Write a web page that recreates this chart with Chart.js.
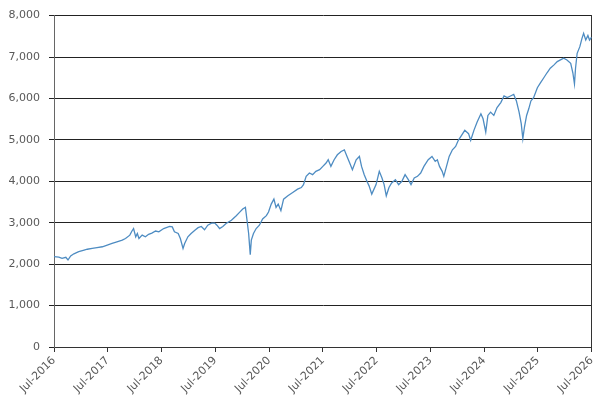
<!DOCTYPE html>
<html>
<head>
<meta charset="utf-8">
<script src="https://cdn.jsdelivr.net/npm/chart.js@4.4.0/dist/chart.umd.min.js"></script>
<style>
    body { margin: 0; background: #fff; }
    #grafico { display: block; }
</style>
</head>
<body>
<canvas id="grafico" width="603" height="409"></canvas>
<script>
// rótulos do eixo X (um por ano, em julho)
var labelsAno = ['Jul-2016', 'Jul-2017', 'Jul-2018', 'Jul-2019', 'Jul-2020', 'Jul-2021',
    'Jul-2022', 'Jul-2023', 'Jul-2024', 'Jul-2025', 'Jul-2026'];
var inicioAno = 2016.5;

// datas em ano decimal e valores
var datas = [
    2016.50, 2016.59, 2016.65, 2016.72, 2016.76, 2016.81, 2016.87, 2016.96, 2017.06, 2017.12,
    2017.21, 2017.30, 2017.40, 2017.49, 2017.58, 2017.67, 2017.77, 2017.83, 2017.91, 2017.95,
    2017.98, 2018.02, 2018.05, 2018.08, 2018.14, 2018.20, 2018.26, 2018.32, 2018.39, 2018.45,
    2018.54, 2018.65, 2018.70, 2018.74, 2018.81, 2018.85, 2018.90, 2018.93, 2018.99, 2019.05,
    2019.12, 2019.18, 2019.24, 2019.30, 2019.36, 2019.43, 2019.49, 2019.53, 2019.58, 2019.64,
    2019.70, 2019.80, 2019.89, 2019.95, 2020.01, 2020.06, 2020.09, 2020.12, 2020.15, 2020.17,
    2020.21, 2020.26, 2020.32, 2020.38, 2020.45, 2020.49, 2020.54, 2020.59, 2020.63, 2020.67,
    2020.72, 2020.77, 2020.85, 2020.94, 2021.03, 2021.10, 2021.14, 2021.19, 2021.25, 2021.31,
    2021.37, 2021.44, 2021.50, 2021.56, 2021.60, 2021.65, 2021.71, 2021.77, 2021.84, 2021.90,
    2021.95, 2022.00, 2022.05, 2022.12, 2022.18, 2022.22, 2022.27, 2022.32, 2022.36, 2022.41,
    2022.49, 2022.55, 2022.60, 2022.64, 2022.68, 2022.73, 2022.78, 2022.85, 2022.91, 2022.97,
    2023.03, 2023.09, 2023.14, 2023.20, 2023.26, 2023.32, 2023.38, 2023.46, 2023.53, 2023.59,
    2023.63, 2023.67, 2023.72, 2023.75, 2023.80, 2023.85, 2023.91, 2023.97, 2024.02, 2024.08,
    2024.14, 2024.21, 2024.25, 2024.31, 2024.37, 2024.44, 2024.48, 2024.53, 2024.57, 2024.62,
    2024.68, 2024.74, 2024.81, 2024.87, 2024.93, 2024.99, 2025.05, 2025.10, 2025.15, 2025.19,
    2025.22, 2025.25, 2025.29, 2025.33, 2025.37, 2025.42, 2025.49, 2025.55, 2025.61, 2025.67,
    2025.73, 2025.80, 2025.86, 2025.92, 2025.98, 2026.04, 2026.11, 2026.15, 2026.18, 2026.20,
    2026.23, 2026.28, 2026.32, 2026.35, 2026.39, 2026.43, 2026.46, 2026.50
];
var valores = [
    2180, 2170, 2140, 2165, 2100, 2200, 2250, 2300, 2340, 2360,
    2380, 2400, 2420, 2460, 2500, 2540, 2580, 2620, 2700, 2800,
    2860, 2660, 2740, 2620, 2700, 2660, 2720, 2750, 2800, 2780,
    2860, 2910, 2900, 2780, 2740, 2620, 2380, 2500, 2660, 2740,
    2820, 2880, 2910, 2830, 2940, 2990, 2990, 2940, 2860, 2910,
    2980, 3060, 3170, 3250, 3330, 3370, 3060, 2740, 2230, 2580,
    2740, 2860, 2940, 3090, 3170, 3260, 3450, 3570, 3370, 3450,
    3290, 3570, 3650, 3730, 3810, 3850, 3920, 4120, 4200, 4160,
    4240, 4280, 4360, 4440, 4520, 4360, 4520, 4640, 4720, 4760,
    4600, 4440, 4280, 4520, 4600, 4360, 4160, 4000, 3890, 3690,
    3920, 4240, 4080, 3920, 3650, 3850, 3960, 4040, 3920, 4000,
    4160, 4040, 3920, 4080, 4120, 4200, 4360, 4520, 4600, 4480,
    4520, 4360, 4240, 4120, 4360, 4600, 4760, 4840, 4990, 5110,
    5230, 5150, 4990, 5230, 5430, 5630, 5510, 5190, 5590, 5670,
    5590, 5780, 5900, 6060, 6020, 6060, 6100, 5940, 5670, 5390,
    5030, 5310, 5590, 5750, 5940, 6020, 6260, 6380, 6500, 6620,
    6730, 6810, 6890, 6930, 6970, 6930, 6850, 6620, 6350, 6730,
    7090, 7250, 7450, 7570, 7410, 7520, 7410, 7480
];

var ctxGrafico = document.getElementById('grafico');

var pontos = [];
for (let i = 0; i < datas.length; i++) {
    pontos.push({ x: datas[i], y: valores[i] });
}

var fonteEixo = { family: 'DejaVu Sans', size: 11 };

new Chart(ctxGrafico, {
    type: 'line',
    data: {
        datasets: [{
            data: pontos,
            borderColor: '#4e8cc2',
            borderWidth: 1.3,
            pointRadius: 0,
            tension: 0
        }]
    },
    options: {
        responsive: false,
        animation: false,
        layout: {
            padding: { top: 10, right: 10 }
        },
        plugins: {
            legend: { display: false },
            tooltip: { enabled: false }
        },
        scales: {
            x: {
                type: 'linear',
                min: inicioAno,
                max: inicioAno + labelsAno.length - 1,
                afterBuildTicks: function (escala) {
                    escala.ticks = labelsAno.map(function (l, i) {
                        return { value: inicioAno + i };
                    });
                },
                afterFit: function (escala) {
                    escala.height = 62;
                },
                ticks: {
                    autoSkip: false,
                    minRotation: 45,
                    maxRotation: 45,
                    padding: 2,
                    color: '#595959',
                    font: fonteEixo,
                    callback: function (valor, indice) {
                        return labelsAno[indice];
                    }
                },
                grid: {
                    drawOnChartArea: false,
                    tickLength: 5,
                    color: '#333'
                },
                border: { color: '#333' }
            },
            y: {
                min: 0,
                max: 8000,
                afterFit: function (escala) {
                    escala.width = 54;
                },
                ticks: {
                    stepSize: 1000,
                    padding: 9,
                    color: '#595959',
                    font: fonteEixo,
                    callback: function (valor) {
                        return valor.toLocaleString('en-US');
                    }
                },
                grid: {
                    color: '#222',
                    tickLength: 5
                },
                border: { color: '#666' }
            },
            // só para desenhar a borda direita
            y2: {
                position: 'right',
                display: true,
                afterFit: function (escala) {
                    escala.width = 0;
                },
                ticks: { display: false },
                grid: { display: false },
                border: { display: true, color: '#333' }
            }
        }
    }
});
</script>
</body>
</html>
